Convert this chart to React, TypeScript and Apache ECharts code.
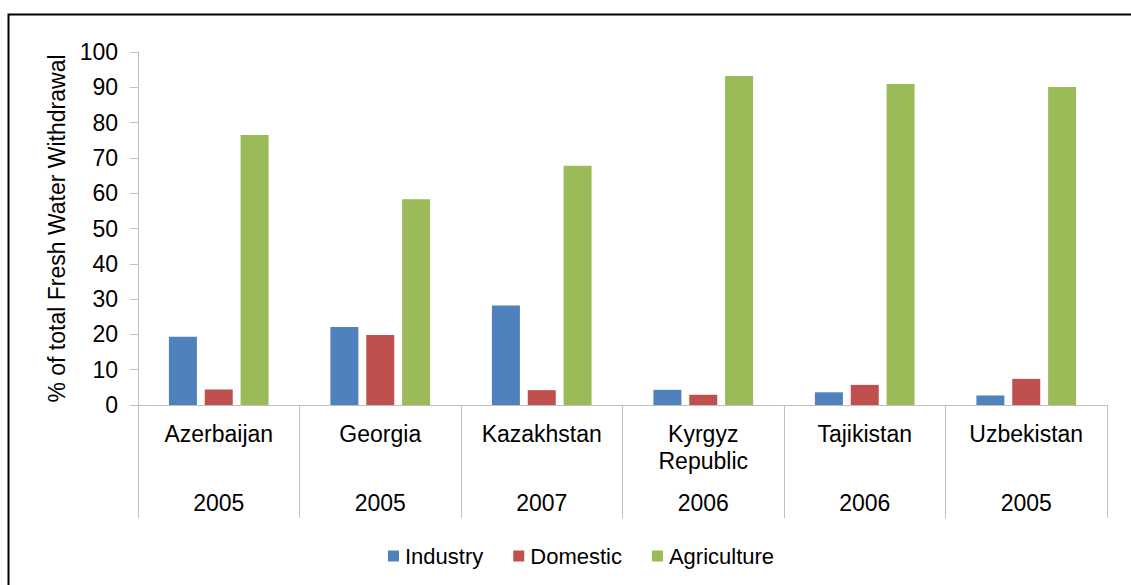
import React, { useEffect, useRef } from "react";
import * as echarts from "echarts";

const countries = ["Azerbaijan", "Georgia", "Kazakhstan", "Kyrgyz\nRepublic", "Tajikistan", "Uzbekistan"];
const years = ["2005", "2005", "2007", "2006", "2006", "2005"];
const industry = [19.3, 22.1, 28.2, 4.3, 3.6, 2.7];
const domestic = [4.4, 19.8, 4.2, 2.9, 5.7, 7.4];
const agriculture = [76.5, 58.3, 67.8, 93.2, 90.9, 90.1];
const yTicksMax = 100;

const FONT = "'Liberation Sans', Arial, sans-serif";
const AXIS_GRAY = "#bfbfbf";

export default function App() {
  const ref = useRef<HTMLDivElement>(null);
  useEffect(() => {
    if (!ref.current) return;
    const chart = echarts.init(ref.current, undefined, { renderer: "svg" });
    const barBase = { type: "bar", barWidth: 28, barGap: "28%", xAxisIndex: 0, yAxisIndex: 0 };
    chart.setOption({
      animation: false,
      backgroundColor: "#ffffff",
      textStyle: { fontFamily: FONT, color: "#000" },
      graphic: [
        {
          type: "rect",
          shape: { x: 8.5, y: 14.5, width: 1140, height: 600 },
          style: { fill: "none", stroke: "#000", lineWidth: 2 },
          silent: true,
        },
      ],
      grid: { left: 138, right: 24, top: 52, bottom: 180, containLabel: false },
      legend: {
        left: 383,
        top: 540,
        itemWidth: 11,
        itemHeight: 11,
        itemGap: 30,
        icon: "rect",
        textStyle: { fontSize: 22, fontFamily: FONT, color: "#000", padding: [0, 0, 0, 1] },
        data: ["Industry", "Domestic", "Agriculture"],
      },
      xAxis: [
        {
          type: "category",
          position: "bottom",
          data: countries,
          axisLine: { show: true, lineStyle: { color: AXIS_GRAY, width: 1 } },
          axisTick: { show: true, length: 113, interval: 0, lineStyle: { color: AXIS_GRAY } },
          axisLabel: {
            interval: 0,
            margin: 15,
            fontSize: 23,
            lineHeight: 27,
            color: "#000",
            fontFamily: FONT,
          },
        },
        {
          type: "category",
          position: "bottom",
          offset: 0,
          data: years,
          axisLine: { show: false },
          axisTick: { show: false },
          axisLabel: { interval: 0, margin: 86, fontSize: 23, color: "#000", fontFamily: FONT },
        },
      ],
      yAxis: {
        type: "value",
        min: 0,
        max: yTicksMax,
        interval: 10,
        name: "% of total Fresh Water Withdrawal",
        nameLocation: "middle",
        nameGap: 70,
        nameTextStyle: { fontSize: 23, color: "#000", fontFamily: FONT },
        axisLine: { show: true, lineStyle: { color: AXIS_GRAY } },
        axisTick: { show: true, length: 8, lineStyle: { color: AXIS_GRAY } },
        splitLine: { show: false },
        axisLabel: { margin: 20, fontSize: 23, color: "#000", fontFamily: FONT },
      },
      series: [
        { ...barBase, name: "Industry", data: industry, itemStyle: { color: "#4F81BD" } },
        { ...barBase, name: "Domestic", data: domestic, itemStyle: { color: "#C0504D" } },
        { ...barBase, name: "Agriculture", data: agriculture, itemStyle: { color: "#9BBB59" } },
      ],
    });
    return () => chart.dispose();
  }, []);
  return (
    <div
      ref={ref}
      style={{ position: "absolute", left: 0, top: 0, width: 1131, height: 585 }}
    />
  );
}
